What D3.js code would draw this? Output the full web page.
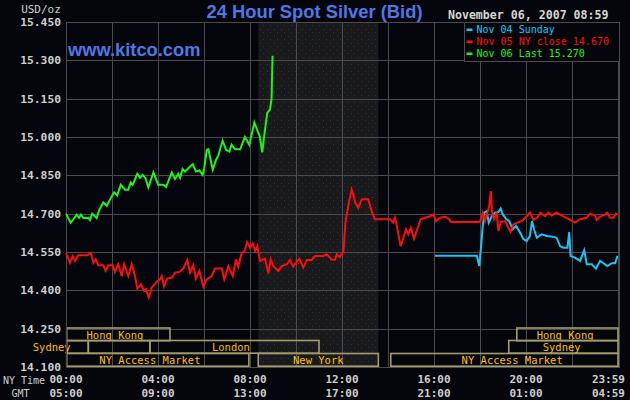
<!DOCTYPE html>
<html><head><meta charset="utf-8">
<script src="https://cdn.jsdelivr.net/npm/d3@7"></script>
<style>html,body{margin:0;padding:0;background:#05060b;overflow:hidden}svg{display:block}</style>
</head><body><svg id="c" width="630" height="400"></svg>
<script>
// ---------- data ----------
const titleText = "24 Hour Spot Silver (Bid)";
const siteText = "www.kitco.com";
const dateText = "November 06, 2007 08:59";
const unitText = "USD/oz";

const yTicks = [14.10, 14.25, 14.40, 14.55, 14.70, 14.85, 15.00, 15.15, 15.30, 15.45];
const xTickHours = [0, 4, 8, 12, 16, 20, 23.983];
const nyTimeLabels = ["00:00", "04:00", "08:00", "12:00", "16:00", "20:00", "23:59"];
const gmtLabels = ["05:00", "09:00", "13:00", "17:00", "21:00", "01:00", "04:59"];

const legendLabels = ["Nov 04 Sunday", "Nov 05 NY close 14.670", "Nov 06 Last 15.270"];

// Nov 04 (Sunday) – hours (NY time) and prices
const nov04Hours = [16.04, 17.86, 17.97, 18.03, 18.12, 18.19, 18.29, 18.38, 18.51, 18.65, 18.80, 18.90, 18.99, 19.13, 19.27, 19.42, 19.57, 19.74, 19.88, 20.03, 20.17, 20.26, 20.35, 20.47, 20.68, 20.90, 21.19, 21.33, 21.48, 21.62, 21.80, 21.88, 21.94, 22.13, 22.35, 22.53, 22.64, 22.86, 23.04, 23.22, 23.37, 23.53, 23.73, 23.87, 23.98];
const nov04Prices = [14.535, 14.535, 14.495, 14.555, 14.652, 14.704, 14.710, 14.665, 14.690, 14.704, 14.706, 14.720, 14.697, 14.680, 14.671, 14.639, 14.652, 14.626, 14.602, 14.593, 14.613, 14.671, 14.639, 14.606, 14.619, 14.613, 14.610, 14.606, 14.573, 14.567, 14.567, 14.628, 14.534, 14.528, 14.515, 14.557, 14.502, 14.502, 14.485, 14.515, 14.506, 14.495, 14.506, 14.506, 14.535];

// Nov 05 (NY close 14.670)
const nov05Hours = [0.00, 0.17, 0.29, 0.39, 0.53, 0.90, 1.09, 1.19, 1.29, 1.40, 1.62, 1.73, 1.84, 2.03, 2.13, 2.27, 2.42, 2.53, 2.71, 2.86, 3.00, 3.10, 3.26, 3.40, 3.48, 3.60, 3.73, 3.94, 4.09, 4.16, 4.26, 4.40, 4.60, 4.74, 4.93, 5.10, 5.27, 5.39, 5.53, 5.65, 5.80, 5.97, 6.12, 6.33, 6.48, 6.77, 6.88, 7.06, 7.25, 7.39, 7.49, 7.64, 7.75, 7.88, 8.00, 8.12, 8.22, 8.32, 8.43, 8.65, 8.80, 8.90, 9.01, 9.23, 9.38, 9.60, 9.74, 9.88, 10.14, 10.32, 10.47, 10.68, 10.83, 11.19, 11.33, 11.48, 11.55, 11.70, 11.77, 11.91, 12.06, 12.10, 12.15, 12.27, 12.42, 12.49, 12.57, 12.71, 12.86, 13.14, 13.29, 13.43, 14.09, 14.23, 14.30, 14.40, 14.55, 14.67, 14.78, 14.88, 14.99, 15.13, 15.27, 15.42, 15.61, 15.83, 15.97, 16.09, 16.26, 16.48, 16.67, 16.73, 18.00, 18.12, 18.22, 18.32, 18.40, 18.47, 18.52, 18.61, 18.73, 18.80, 18.90, 19.09, 19.19, 19.33, 19.45, 19.62, 19.81, 20.03, 20.17, 20.32, 20.47, 20.64, 20.83, 20.97, 21.12, 21.33, 21.55, 21.84, 22.13, 22.35, 22.64, 22.78, 23.00, 23.07, 23.22, 23.43, 23.53, 23.65, 23.80, 23.91, 23.98];
const nov05Prices = [14.547, 14.508, 14.534, 14.515, 14.537, 14.537, 14.545, 14.508, 14.521, 14.498, 14.498, 14.476, 14.498, 14.498, 14.472, 14.502, 14.456, 14.502, 14.456, 14.502, 14.456, 14.407, 14.424, 14.398, 14.404, 14.372, 14.411, 14.433, 14.443, 14.456, 14.415, 14.446, 14.450, 14.469, 14.472, 14.485, 14.519, 14.469, 14.498, 14.446, 14.476, 14.415, 14.443, 14.456, 14.485, 14.485, 14.443, 14.495, 14.456, 14.521, 14.493, 14.547, 14.550, 14.589, 14.567, 14.584, 14.554, 14.573, 14.515, 14.524, 14.467, 14.521, 14.495, 14.476, 14.495, 14.502, 14.519, 14.493, 14.524, 14.489, 14.519, 14.519, 14.534, 14.534, 14.541, 14.528, 14.521, 14.520, 14.541, 14.530, 14.552, 14.600, 14.665, 14.730, 14.795, 14.775, 14.743, 14.723, 14.756, 14.756, 14.710, 14.678, 14.678, 14.665, 14.684, 14.645, 14.573, 14.606, 14.639, 14.619, 14.645, 14.602, 14.639, 14.678, 14.684, 14.690, 14.697, 14.671, 14.684, 14.688, 14.678, 14.667, 14.667, 14.704, 14.671, 14.704, 14.730, 14.788, 14.710, 14.678, 14.704, 14.632, 14.667, 14.671, 14.652, 14.628, 14.658, 14.665, 14.671, 14.690, 14.704, 14.675, 14.684, 14.704, 14.690, 14.704, 14.693, 14.704, 14.692, 14.680, 14.665, 14.678, 14.684, 14.700, 14.693, 14.675, 14.688, 14.697, 14.704, 14.684, 14.684, 14.700, 14.697];

// Nov 06 (Last 15.270)
const nov06Hours = [0.00, 0.20, 0.30, 0.47, 0.57, 0.65, 0.75, 0.97, 1.04, 1.14, 1.26, 1.33, 1.45, 1.62, 1.77, 1.91, 2.09, 2.23, 2.38, 2.57, 2.71, 2.81, 2.90, 3.10, 3.22, 3.33, 3.45, 3.58, 3.80, 4.01, 4.23, 4.35, 4.60, 4.74, 4.88, 4.96, 5.07, 5.17, 5.32, 5.51, 5.65, 5.80, 5.94, 6.01, 6.12, 6.19, 6.38, 6.52, 6.62, 6.81, 6.96, 7.10, 7.20, 7.35, 7.57, 7.78, 7.97, 8.07, 8.19, 8.32, 8.43, 8.53, 8.61, 8.75, 8.87, 8.94, 8.96, 8.98];
const nov06Prices = [14.700, 14.665, 14.676, 14.696, 14.684, 14.696, 14.683, 14.684, 14.675, 14.700, 14.690, 14.683, 14.716, 14.744, 14.731, 14.755, 14.783, 14.771, 14.813, 14.794, 14.794, 14.822, 14.813, 14.856, 14.840, 14.852, 14.840, 14.803, 14.861, 14.813, 14.813, 14.804, 14.861, 14.836, 14.856, 14.840, 14.875, 14.865, 14.878, 14.894, 14.865, 14.869, 14.852, 14.878, 14.950, 14.952, 14.872, 14.910, 14.927, 14.986, 14.950, 14.943, 14.970, 14.952, 14.952, 15.000, 14.970, 15.009, 15.057, 15.026, 15.002, 14.940, 15.000, 15.094, 15.107, 15.153, 15.240, 15.318];

// Market sessions (NY hours): row, name, start, end, label centre
const marketNames  = ["Hong Kong", "Hong Kong", "Sydney", "", "London", "Sydney", "NY Access Market", "New York", "NY Access Market"];
const marketRows   = [0, 0, 1, 1, 1, 1, 2, 2, 2];
const marketStarts = [0.03, 19.6, 0.03, 0.97, 3.65, 19.25, 0.03, 8.36, 14.12];
const marketEnds   = [4.52, 24, 0.97, 3.65, 11.0, 24, 7.95, 13.58, 24];
const marketLabelAt= [2.13, 21.7, -0.62, null, 7.17, 21.55, 3.65, 10.97, 19.4];

const shadeHours = [8.36, 13.58];

// ---------- drawing ----------
const W = 630, H = 400;
const M = {left: 66, right: 618, top: 22, bottom: 367};
const BG = "#05060b", GRID = "#4b4b4b", LBL = "#cfcfcf";
const colors = ["#19c6f6", "#ff0c0c", "#1cf51c"];
const mono = "'DejaVu Sans Mono', monospace";

const svg = d3.select("#c");
svg.append("rect").attr("width", W).attr("height", H).attr("fill", BG);

const x = d3.scaleLinear().domain([0, 24]).range([M.left, M.right]);
const y = d3.scaleLinear().domain([14.10, 15.45]).range([M.bottom, M.top]);

// shaded pattern
const defs = svg.append("defs");
const pat = defs.append("pattern").attr("id", "dots").attr("patternUnits", "userSpaceOnUse")
  .attr("width", 7).attr("height", 7);
pat.append("rect").attr("width", 7).attr("height", 7).attr("fill", "#1a1a1a");
pat.append("rect").attr("x", 1).attr("y", 1).attr("width", 1).attr("height", 1).attr("fill", "#22306e");
pat.append("rect").attr("x", 4).attr("y", 4).attr("width", 1).attr("height", 1).attr("fill", "#22306e");

svg.append("rect")
  .attr("x", x(shadeHours[0])).attr("y", M.top)
  .attr("width", x(shadeHours[1]) - x(shadeHours[0])).attr("height", M.bottom - M.top)
  .attr("fill", "url(#dots)");

// grid
const g = svg.append("g").attr("shape-rendering", "crispEdges");
g.selectAll("line.v").data(d3.range(0, 25, 2)).join("line")
  .attr("x1", d => Math.round(x(d)) + 0.5).attr("x2", d => Math.round(x(d)) + 0.5)
  .attr("y1", M.top).attr("y2", M.bottom).attr("stroke", GRID).attr("stroke-width", 1);
g.selectAll("line.h").data(yTicks).join("line")
  .attr("y1", d => Math.round(y(d)) + 0.5).attr("y2", d => Math.round(y(d)) + 0.5)
  .attr("x1", M.left).attr("x2", M.right + 1).attr("stroke", GRID).attr("stroke-width", 1);

// y axis labels
const yAxis = d3.axisLeft(y).tickValues(yTicks).tickFormat(d3.format(",.3f")).tickSize(0).tickPadding(5);
const ya = svg.append("g").attr("transform", `translate(${M.left},0)`).call(yAxis);
ya.select(".domain").remove();
ya.selectAll("text").attr("fill", LBL).attr("font-family", mono).attr("font-weight", "bold").attr("font-size", "11.3px");

// x axis labels (NY time / GMT)
const xa = svg.append("g");
xa.selectAll("text.ny").data(xTickHours).join("text")
  .attr("x", (d, i) => i === xTickHours.length - 1 ? M.right + 7 : x(d))
  .attr("y", 383).attr("text-anchor", (d, i) => i === xTickHours.length - 1 ? "end" : "middle")
  .attr("fill", LBL).attr("font-family", mono).attr("font-weight", "bold").attr("font-size", "11px")
  .text((d, i) => nyTimeLabels[i]);
xa.selectAll("text.gmt").data(xTickHours).join("text")
  .attr("x", (d, i) => i === xTickHours.length - 1 ? M.right + 7 : x(d))
  .attr("y", 397).attr("text-anchor", (d, i) => i === xTickHours.length - 1 ? "end" : "middle")
  .attr("fill", LBL).attr("font-family", mono).attr("font-weight", "bold").attr("font-size", "11px")
  .text((d, i) => gmtLabels[i]);
svg.append("text").attr("x", 24).attr("y", 383.5).attr("text-anchor", "middle").attr("fill", LBL)
  .attr("font-family", mono).attr("font-size", "10px").text("NY Time");
svg.append("text").attr("x", 20.5).attr("y", 397).attr("text-anchor", "middle").attr("fill", LBL)
  .attr("font-family", mono).attr("font-size", "10px").text("GMT");

// market session boxes
const rowTop = [328, 340.5, 353.5];
const rowH = 12.7;
const mk = svg.append("g");
marketNames.forEach((name, i) => {
  const r = marketRows[i];
  mk.append("rect")
    .attr("x", x(marketStarts[i])).attr("y", rowTop[r])
    .attr("width", x(marketEnds[i]) - x(marketStarts[i])).attr("height", rowH)
    .attr("fill", "none").attr("stroke", "#a39d6c").attr("stroke-width", 1.6);
  if (name) {
    mk.append("text")
      .attr("x", x(marketLabelAt[i])).attr("y", rowTop[r] + 10.5)
      .attr("text-anchor", "middle").attr("fill", "#ffbf10")
      .attr("font-family", mono).attr("font-size", "10.5px").text(name);
  }
});

// plot border
svg.append("rect").attr("x", M.left + 0.5).attr("y", M.top + 0.5)
  .attr("width", M.right - M.left + 0.5).attr("height", M.bottom - M.top)
  .attr("fill", "none").attr("stroke", GRID).attr("shape-rendering", "crispEdges");

// series
const series = [
  {h: nov04Hours, p: nov04Prices},
  {h: nov05Hours, p: nov05Prices},
  {h: nov06Hours, p: nov06Prices}
];
const line = d3.line().x(d => x(d[0])).y(d => y(d[1])).curve(d3.curveLinear);
series.forEach((s, i) => {
  svg.append("path").datum(s.h.map((h, j) => [h, s.p[j]]))
    .attr("d", line).attr("fill", "none").attr("stroke", colors[i])
    .attr("stroke-width", 2).attr("stroke-linejoin", "miter");
});

// legend
const lg = svg.append("g");
lg.append("rect").attr("x", 464.5).attr("y", 22.5).attr("width", 154.5).attr("height", 38.5)
  .attr("fill", BG).attr("stroke", GRID).attr("shape-rendering", "crispEdges");
legendLabels.forEach((t, i) => {
  const cy = 29.5 + i * 12;
  lg.append("rect").attr("x", 466.5).attr("y", cy - 1).attr("width", 6).attr("height", 2.5).attr("fill", colors[i]);
  lg.append("text").attr("x", 476.5).attr("y", cy + 3.6).attr("fill", colors[i])
    .attr("font-family", mono).attr("font-size", "10px").text(t);
});

// titles
svg.append("text").attr("x", 206.5).attr("y", 18.3).attr("fill", "#4f78e6")
  .attr("font-family", "'Liberation Sans', Arial, sans-serif").attr("font-weight", "bold")
  .attr("font-size", "18.5px").attr("textLength", 216).attr("lengthAdjust", "spacingAndGlyphs").text(titleText);
svg.append("text").attr("x", 68).attr("y", 56).attr("fill", "#4f78e6")
  .attr("font-family", "'Liberation Sans', Arial, sans-serif").attr("font-weight", "bold")
  .attr("font-size", "18.3px").text(siteText);
svg.append("text").attr("x", 608.5).attr("y", 18.5).attr("text-anchor", "end").attr("fill", "#d6d6d6")
  .attr("font-family", mono).attr("font-weight", "bold").attr("font-size", "11.6px").text(dateText);
svg.append("text").attr("x", 41).attr("y", 12.5).attr("text-anchor", "middle").attr("fill", LBL)
  .attr("font-family", mono).attr("font-size", "11px").text(unitText);
</script></body></html>
